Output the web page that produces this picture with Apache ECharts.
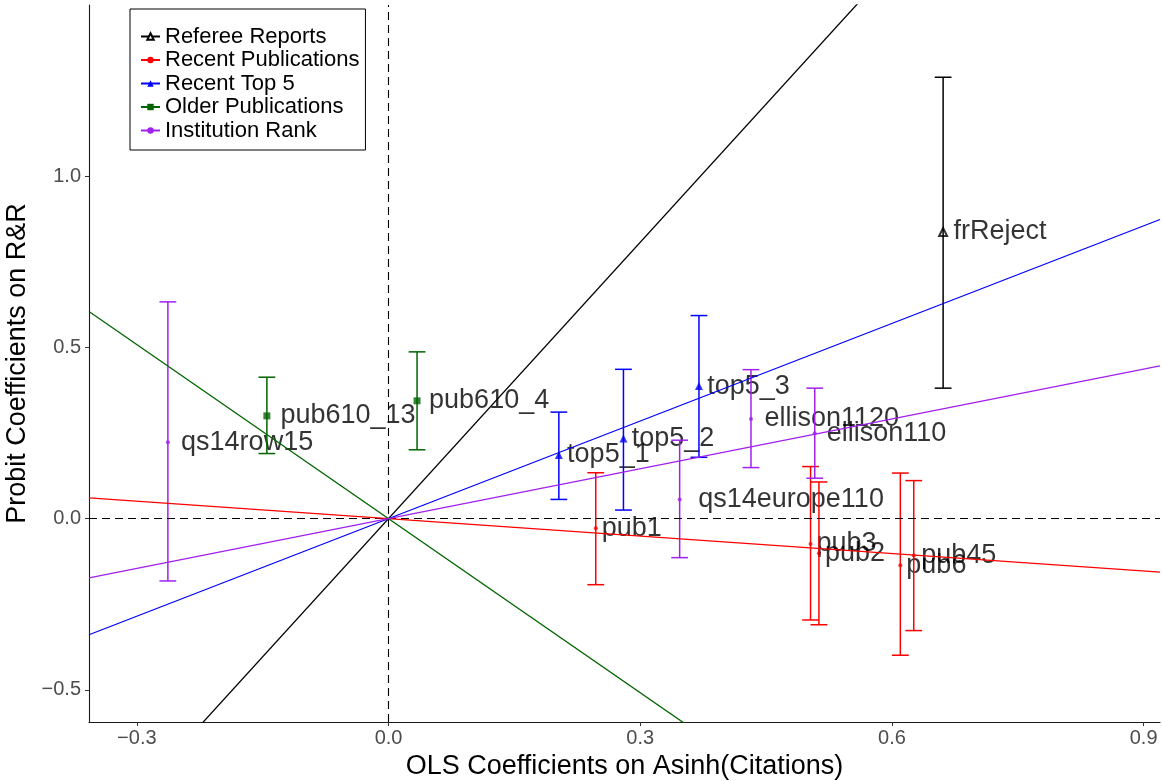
<!DOCTYPE html>
<html><head><meta charset="utf-8">
<script src="https://cdn.jsdelivr.net/npm/echarts@6/dist/echarts.min.js"></script>
<style>html,body{margin:0;padding:0;background:#fff}#c{width:1162px;height:781px}</style>
</head><body><div id="c"></div>
<script>
// ---------- data ----------
const groupNames = ['Referee Reports', 'Recent Publications', 'Recent Top 5', 'Older Publications', 'Institution Rank'];
const groupSlopes = [2.69, -0.17, 0.95, -1.695, 0.485];

const pointNames = ['frReject', 'pub1', 'pub2', 'pub3', 'pub45', 'pub6', 'top5_1', 'top5_2', 'top5_3', 'pub610_4', 'pub610_13', 'qs14row15', 'qs14europe110', 'ellison1120', 'ellison110'];
const pointGroup = [0, 1, 1, 1, 1, 1, 2, 2, 2, 3, 3, 4, 4, 4, 4];
const pointX = [0.661, 0.247, 0.513, 0.503, 0.626, 0.610, 0.203, 0.280, 0.370, 0.034, -0.145, -0.263, 0.347, 0.432, 0.508];
const pointY = [0.837, -0.028, -0.101, -0.074, -0.108, -0.136, 0.186, 0.234, 0.387, 0.344, 0.300, 0.223, 0.056, 0.291, 0.249];
const ciLow = [0.381, -0.193, -0.310, -0.296, -0.327, -0.399, 0.056, 0.025, 0.179, 0.201, 0.190, -0.182, -0.114, 0.149, 0.118];
const ciHigh = [1.289, 0.134, 0.107, 0.152, 0.111, 0.133, 0.311, 0.436, 0.593, 0.487, 0.413, 0.633, 0.229, 0.435, 0.381];

const xTicks = [-0.3, 0.0, 0.3, 0.6, 0.9];
const yTicks = [-0.5, 0.0, 0.5, 1.0];

// ---------- style ----------
const groupColors = ['#000000', '#ff0000', '#0000ff', '#006400', '#a020f0'];
const groupSymbols = ['emptyTriangle', 'circle', 'triangle', 'rect', 'circle'];
const groupSymbolSizes = [8, 4, 8, 7, 4];
const FONT = '"Liberation Sans", Arial, Helvetica, sans-serif';
const xMin = -0.357, xMax = 0.9195, yMin = -0.594, yMax = 1.5;
const capHalf = 0.01;

const mctx = document.createElement('canvas').getContext('2d');
mctx.font = '27px "Liberation Sans"';
const textW = s => mctx.measureText(s).width;

const fmt = v => {
  const s = Math.abs(v).toFixed(1);
  return v < -1e-9 ? '\u2212' + s : s;
};

const series = [];
// zero reference lines
series.push({
  type: 'line', name: '_ref', data: [], z: 1, silent: true,
  markLine: {
    silent: true, symbol: 'none', animation: false,
    label: { show: false },
    lineStyle: { type: [8, 5], color: '#000', width: 1.1 },
    data: [{ xAxis: 0 }, { yAxis: 0 }]
  }
});
// fitted lines through the origin (legend icons come from these)
groupNames.forEach((g, i) => {
  series.push({
    type: 'line', name: g, z: 5, silent: true,
    symbol: groupSymbols[i], symbolSize: groupSymbolSizes[i], showSymbol: false,
    lineStyle: { color: groupColors[i], width: 1.3 },
    itemStyle: { color: groupColors[i] },
    data: [[xMin, groupSlopes[i] * xMin], [xMax, groupSlopes[i] * xMax]]
  });
});
// error bars
groupNames.forEach((g, i) => {
  const idx = pointGroup.map((gg, k) => gg === i ? k : -1).filter(k => k >= 0);
  const col = groupColors[i];
  series.push({
    type: 'custom', name: g, z: 4, silent: true,
    encode: { x: 0, y: [1, 2] },
    data: idx.map(k => [pointX[k], ciLow[k], ciHigh[k]]),
    renderItem: (params, api) => {
      const x = api.value(0), lo = api.value(1), hi = api.value(2);
      const pL = api.coord([x, lo]), pH = api.coord([x, hi]);
      const a1 = api.coord([x - capHalf, hi]), a2 = api.coord([x + capHalf, hi]);
      const b1 = api.coord([x - capHalf, lo]), b2 = api.coord([x + capHalf, lo]);
      const st = { stroke: col, lineWidth: 1.5 };
      return {
        type: 'group', children: [
          { type: 'line', shape: { x1: pL[0], y1: pL[1], x2: pH[0], y2: pH[1] }, style: st },
          { type: 'line', shape: { x1: a1[0], y1: a1[1], x2: a2[0], y2: a2[1] }, style: st },
          { type: 'line', shape: { x1: b1[0], y1: b1[1], x2: b2[0], y2: b2[1] }, style: st }
        ]
      };
    }
  });
});
// points with labels
groupNames.forEach((g, i) => {
  const idx = pointGroup.map((gg, k) => gg === i ? k : -1).filter(k => k >= 0);
  const sz = groupSymbolSizes[i];
  series.push({
    type: 'scatter', name: g, z: 3, silent: true,
    symbol: groupSymbols[i], symbolSize: sz,
    itemStyle: { color: groupColors[i], borderColor: groupColors[i], borderWidth: i === 0 ? 1 : 0 },
    label: { show: true, position: 'right', formatter: '{b}', fontSize: 27, color: '#000', fontFamily: FONT },
    data: idx.map(k => ({
      name: pointNames[k],
      value: [pointX[k], pointY[k]],
      label: { distance: Math.max(1, 0.1 * textW(pointNames[k]) - sz / 2) }
    }))
  });
});

const chart = echarts.init(document.getElementById('c'));
chart.setOption({
  animation: false,
  backgroundColor: '#fff',
  textStyle: { fontFamily: FONT },
  grid: { left: 89, right: 2, top: 5, bottom: 59, containLabel: false, outerBoundsMode: 'none' },
  legend: {
    orient: 'vertical', left: 130, top: 9,
    padding: [16.5, 6, 8.5, 10],
    itemGap: 1.5, itemWidth: 19, itemHeight: 8,
    borderColor: '#000', borderWidth: 1, borderRadius: 0,
    backgroundColor: '#fff',
    selectedMode: false,
    textStyle: { fontSize: 22, color: '#000', fontFamily: FONT, lineHeight: 22 },
    data: groupNames
  },
  xAxis: {
    type: 'value', min: xMin, max: xMax,
    splitLine: { show: false },
    axisLine: { show: true, onZero: false, lineStyle: { color: '#1a1a1a', width: 1.1 } },
    axisTick: { show: true, length: 4, customValues: xTicks, lineStyle: { color: '#333' } },
    axisLabel: { customValues: xTicks, formatter: fmt, fontSize: 20, color: '#4d4d4d', margin: 6, fontFamily: FONT },
    name: 'OLS Coefficients on Asinh(Citations)', nameLocation: 'middle', nameGap: 30,
    nameTextStyle: { fontSize: 27, color: '#000', fontFamily: FONT }
  },
  yAxis: {
    type: 'value', min: yMin, max: yMax,
    splitLine: { show: false },
    axisLine: { show: true, onZero: false, lineStyle: { color: '#1a1a1a', width: 1.1 } },
    axisTick: { show: true, length: 4, customValues: yTicks, lineStyle: { color: '#333' } },
    axisLabel: { customValues: yTicks, formatter: fmt, fontSize: 20, color: '#4d4d4d', margin: 8, fontFamily: FONT },
    name: 'Probit Coefficients on R&R', nameLocation: 'middle', nameGap: 46, nameRotate: 90,
    nameTextStyle: { fontSize: 27, color: '#000', fontFamily: FONT }
  },
  series: series
});
</script>
</body></html>
